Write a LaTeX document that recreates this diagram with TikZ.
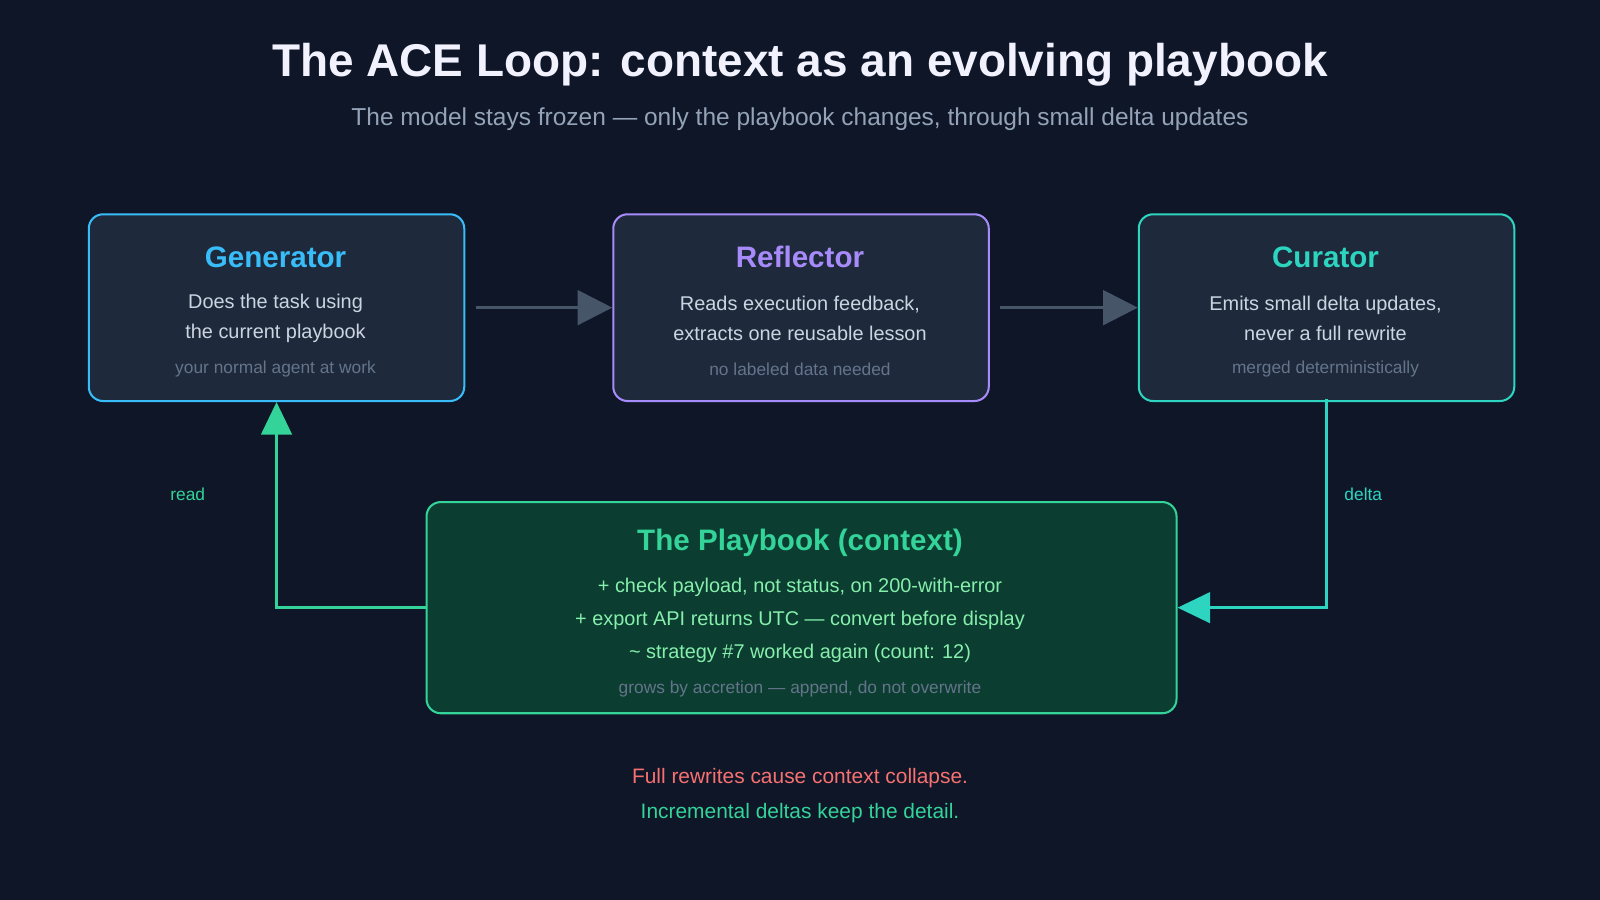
\documentclass[tikz,border=0pt]{standalone}
\usepackage{fontspec}
\setmainfont{Liberation Sans}
\usetikzlibrary{arrows.meta}
\definecolor{bg}{HTML}{0E1628}
\definecolor{boxf}{HTML}{1E293B}
\definecolor{cgen}{HTML}{38BDF8}
\definecolor{cref}{HTML}{A78BFA}
\definecolor{ccur}{HTML}{2DD4BF}
\definecolor{pbf}{HTML}{0B3D30}
\definecolor{pbb}{HTML}{34D399}
\definecolor{pbt}{HTML}{86EFAC}
\definecolor{gray1}{HTML}{475569}
\definecolor{gray2}{HTML}{64748B}
\definecolor{txt}{HTML}{CBD5E1}
\definecolor{sub}{HTML}{94A3B8}
\definecolor{red1}{HTML}{F87171}
\begin{document}
\begin{tikzpicture}[x=1pt,y=-1pt,
  card/.style={draw, line width=2pt, rounded corners=14pt, fill=boxf, minimum width=368pt, minimum height=183pt, anchor=north west},
  ttl/.style={font=\fontsize{29}{32}\selectfont\bfseries},
  bod/.style={font=\fontsize{19.5}{30}\selectfont, text=txt, align=center},
  sml/.style={font=\fontsize{17}{20}\selectfont, text=gray2},
  garrow/.style={line width=3pt, color=gray1, -{Triangle[length=34pt,width=34pt]}},
  larrow/.style={line width=3pt, -{Triangle[length=32pt,width=30pt]}}]
\fill[bg] (0,0) rectangle (1568,882);
\node[font=\fontsize{45}{50}\selectfont\bfseries, text=white!95!blue] (title) at (784,63) {The ACE Loop: context as an evolving playbook};
\node[font=\fontsize{24}{28}\selectfont, text=sub] (subt) at (784,117) {The model stays frozen — only the playbook changes, through small delta updates};
\node[card, draw=cgen] (gen) at (86,209) {};
\node[card, draw=cref] (ref) at (600,209) {};
\node[card, draw=ccur] (cur) at (1115,209) {};
\node[draw=pbb, line width=2pt, rounded corners=14pt, fill=pbf, minimum width=735pt, minimum height=207pt, anchor=north west] (pb) at (417,491) {};
\node[ttl, text=cgen] (gt) at (270,252) {Generator};
\node[bod] (gb) at (270,312) {Does the task using\\the current playbook};
\node[sml] (gs) at (270,362) {your normal agent at work};
\node[ttl, text=cref] (rt) at (784,252) {Reflector};
\node[bod] (rb) at (784,312) {Reads execution feedback,\\extracts one reusable lesson};
\node[sml] (rs) at (784,362) {no labeled data needed};
\node[ttl, text=ccur] (ct) at (1299,252) {Curator};
\node[bod] (cb) at (1299,312) {Emits small delta updates,\\never a full rewrite};
\node[sml] (cs) at (1299,362) {merged deterministically};
\node[ttl, text=pbb] (pt) at (784,532) {The Playbook (context)};
\node[bod, text=pbt, font=\fontsize{19.5}{32}\selectfont] (pbody) at (784,608) {+ check payload, not status, on 200-with-error\\+ export API returns UTC — convert before display\\\textasciitilde{} strategy \#7 worked again (count: 12)};
\node[sml] (ps) at (784,675) {grows by accretion — append, do not overwrite};
\draw[garrow] ([xshift=10pt]gen.east) -- (ref.west);
\draw[garrow] ([xshift=10pt]ref.east) -- (cur.west);
\draw[larrow, color=ccur] ([yshift=3pt]cur.south) |- (pb.east);
\draw[larrow, color=pbb] (pb.west) -| (gen.south);
\node[sml, text=ccur] (dl) at (1336,484) {delta};
\node[sml, text=pbb] (rl) at (184,484) {read};
\node[font=\fontsize{20.5}{24}\selectfont, text=red1] (n1) at (784,763) {Full rewrites cause context collapse.};
\node[font=\fontsize{20.5}{24}\selectfont, text=pbb] (n2) at (784,797) {Incremental deltas keep the detail.};
\end{tikzpicture}
\end{document}
